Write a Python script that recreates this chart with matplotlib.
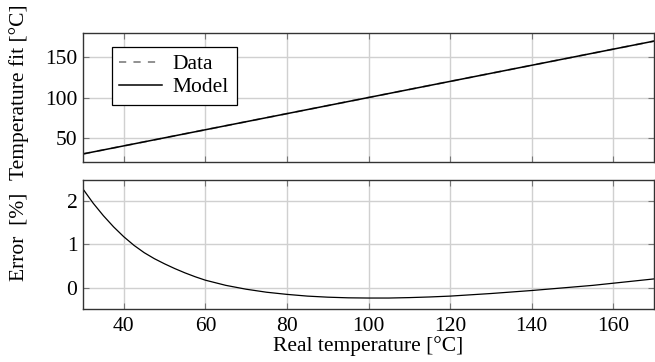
import matplotlib
matplotlib.use("Agg")
import matplotlib.pyplot as plt

plt.rcParams.update({
    "font.family": ["Liberation Serif", "DejaVu Serif"],
    "mathtext.fontset": "stix",
    "font.size": 15.5,
    "axes.edgecolor": "#333333",
    "axes.linewidth": 1.0,
})

# ── data ──
TEMP = [30, 35, 40, 45, 50, 55, 60, 70, 80, 90, 100, 110, 120, 130, 140, 150, 160, 170]
DATA_FIT = [30, 35, 40, 45, 50, 55, 60, 70, 80, 90, 100, 110, 120, 130, 140, 150, 160, 170]
MODEL_FIT = [30, 35, 40, 45, 50, 55, 60, 70, 80, 90, 100, 110, 120, 130, 140, 150, 160, 170]

ERR_TEMP = [30, 32.5, 35, 37.5, 40, 42.5, 45, 47.5, 50, 52.5, 55, 57.5, 60, 65, 70,
            75, 80, 85, 90, 95, 100, 105, 110, 115, 120, 125, 130, 135, 140, 145,
            150, 155, 160, 165, 170]
ERROR = [2.29, 1.96, 1.67, 1.41, 1.18, 0.98, 0.81, 0.67, 0.55, 0.44, 0.34, 0.25,
         0.17, 0.05, -0.04, -0.11, -0.16, -0.20, -0.225, -0.24, -0.245, -0.245,
         -0.235, -0.22, -0.20, -0.17, -0.14, -0.105, -0.07, -0.03, 0.01, 0.05,
         0.10, 0.15, 0.20]

XTICKS = [40, 60, 80, 100, 120, 140, 160]

fig = plt.figure(figsize=(6.55, 3.62), dpi=100)
ax1 = fig.add_axes([0.1267, 0.5525, 0.872, 0.3563])
ax2 = fig.add_axes([0.1267, 0.1464, 0.872, 0.3564])

for ax in (ax1, ax2):
    ax.set_xlim(30, 170)
    ax.set_xticks(XTICKS)
    ax.grid(True, color="#d0d0d0", linewidth=1.0)
    ax.set_axisbelow(True)
    ax.tick_params(direction="in", length=4, color="#777777", top=True, right=True)
    ax.tick_params(axis="y", pad=4)
    ax.tick_params(axis="x", pad=6)

# ── top: fit ──
ax1.plot(TEMP, DATA_FIT, color="#888888", linestyle=(0, (4, 4)), linewidth=1.3,
         label="Data")
ax1.plot(TEMP, MODEL_FIT, color="black", linewidth=1.1, label="Model")
ax1.set_ylim(20, 180)
ax1.set_yticks([50, 100, 150])
ax1.tick_params(labelbottom=False)
ax1.set_ylabel("Temperature fit [°C]")
ax1.yaxis.set_label_coords(-0.095, 0.54)
leg = ax1.legend(loc="upper left", bbox_to_anchor=(0.05, 0.895), borderaxespad=0,
                 fancybox=False, framealpha=1, edgecolor="black", borderpad=0.35,
                 handlelength=2.0, handletextpad=0.5, labelspacing=0.15,
                 fontsize=15.5)
leg.get_frame().set_linewidth(0.9)

# ── bottom: error ──
ax2.plot(ERR_TEMP, ERROR, color="black", linewidth=0.9)
ax2.set_ylim(-0.5, 2.5)
ax2.set_yticks([0, 1, 2])
ax2.set_ylabel("Error  [%]")
ax2.yaxis.set_label_coords(-0.095, 0.56)
ax2.set_xlabel("Real temperature [°C]", labelpad=0)

fig.savefig("out.png", dpi=100)
